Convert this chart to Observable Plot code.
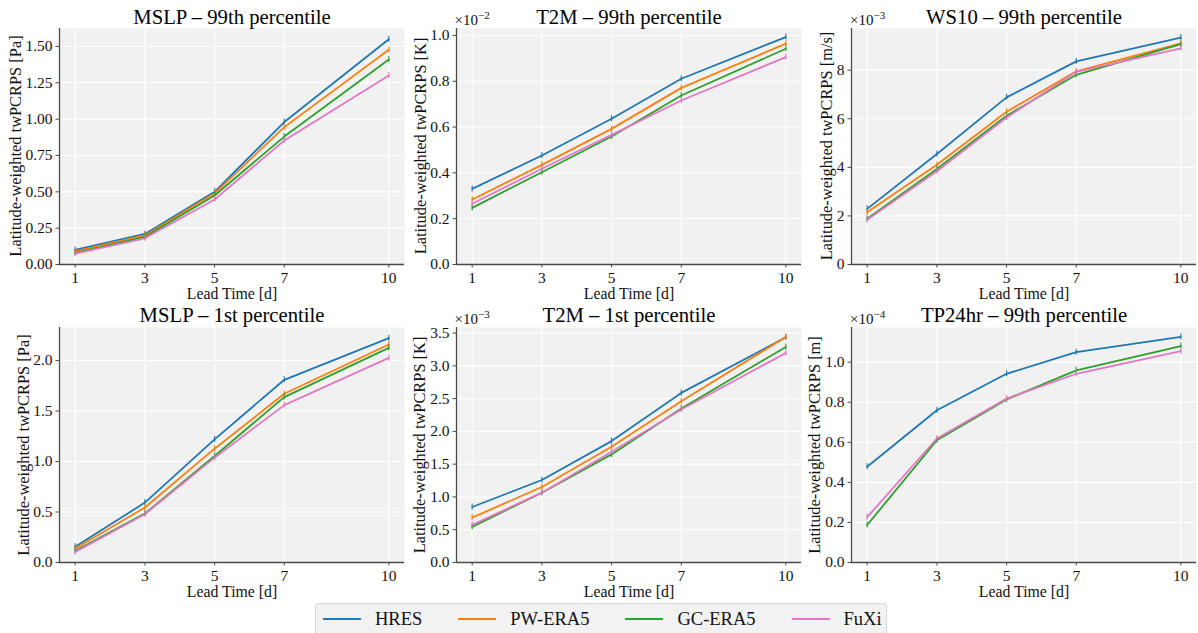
<!DOCTYPE html>
<html><head><meta charset="utf-8">
<script src="https://cdn.jsdelivr.net/npm/d3@7"></script>
<script src="https://cdn.jsdelivr.net/npm/@observablehq/plot@0.6"></script>
<style>
body{margin:0;background:#fff;font-family:"Liberation Serif","DejaVu Serif",serif;}
#root{position:relative;width:1198px;height:633px;overflow:hidden;background:#fff;}
.panel{position:absolute;}
.expo{position:absolute;font-size:15px;color:#111;white-space:nowrap;line-height:15px;}
.expo sup{font-size:11px;vertical-align:6px;line-height:0;}
.ylab{position:absolute;font-size:16.4px;color:#111;white-space:nowrap;line-height:17px;transform:translate(-50%,-50%) rotate(-90deg);}
#legend{position:absolute;left:315px;top:603px;width:572px;height:38px;border:1px solid #d6d6d6;border-radius:4px;background:#f2f2f2;box-sizing:border-box;display:flex;align-items:center;padding-left:7px;padding-bottom:6px;font-size:18.5px;color:#111;white-space:nowrap;}
#legend .item{display:flex;align-items:center;margin-right:36px;flex-shrink:0;}
#legend .sw{width:38px;height:0;border-top:2px solid;margin-right:14px;flex-shrink:0;}
</style></head><body><div id="root"></div>
<script>
// ---- data ----
const days = [1, 3, 5, 7, 10];
const models = ["HRES", "PW-ERA5", "GC-ERA5", "FuXi"];
const colors = ["#1f77b4", "#ff7f0e", "#2ca02c", "#e377c2"];
// rows: HRES, PW-ERA5, GC-ERA5, FuXi
const mslp99 = [[0.100, 0.210, 0.500, 0.980, 1.550], [0.090, 0.200, 0.490, 0.945, 1.477], [0.080, 0.190, 0.475, 0.880, 1.410], [0.075, 0.180, 0.447, 0.853, 1.300]];
const t2m99 = [[0.330, 0.476, 0.636, 0.811, 0.993], [0.284, 0.435, 0.592, 0.771, 0.964], [0.247, 0.403, 0.559, 0.738, 0.942], [0.265, 0.418, 0.566, 0.716, 0.905]];
const ws1099 = [[2.29, 4.55, 6.88, 8.36, 9.34], [2.15, 4.11, 6.29, 7.95, 9.10], [1.88, 3.93, 6.12, 7.81, 9.07], [1.84, 3.84, 6.05, 7.93, 8.90]];
const mslp1 = [[0.155, 0.593, 1.219, 1.809, 2.221], [0.138, 0.544, 1.127, 1.671, 2.158], [0.115, 0.484, 1.054, 1.638, 2.125], [0.105, 0.478, 1.038, 1.558, 2.026]];
const t2m1 = [[0.847, 1.258, 1.852, 2.587, 3.435], [0.685, 1.152, 1.766, 2.461, 3.440], [0.543, 1.065, 1.649, 2.349, 3.288], [0.573, 1.065, 1.690, 2.334, 3.196]];
const tp2499 = [[0.478, 0.760, 0.942, 1.050, 1.126], null, [0.187, 0.610, 0.814, 0.959, 1.080], [0.226, 0.619, 0.818, 0.942, 1.055]];
const titles = ["MSLP – 99th percentile", "T2M – 99th percentile", "WS10 – 99th percentile", "MSLP – 1st percentile", "T2M – 1st percentile", "TP24hr – 99th percentile"];
const units = ["Pa", "K", "m/s", "Pa", "K", "m"];
const exponents = [null, "−2", "−3", null, "−3", "−4"];
const yTicks = [[0, 0.25, 0.5, 0.75, 1, 1.25, 1.5], [0, 0.2, 0.4, 0.6, 0.8, 1.0], [0, 2, 4, 6, 8], [0, 0.5, 1, 1.5, 2], [0, 0.5, 1, 1.5, 2, 2.5, 3, 3.5], [0, 0.2, 0.4, 0.6, 0.8, 1.0]];
const yFormats = [".2f", ".1f", "d", ".1f", ".1f", ".1f"];
const xLabel = "Lead Time [d]";
const yLabelPrefix = "Latitude-weighted twPCRPS";

const panelsData = [mslp99, t2m99, ws1099, mslp1, t2m1, tp2499];

// ---- layout ----
const root = document.getElementById("root");
const spineX = [58.5, 455.5, 851];
const rowTop = [0, 300];
const mTop = [28, 27];
const mBottom = [36, 38];
const mLeft = 58, axW = 345, mRight = 6, svgH = 300;
const yLabelDx = [-44, -36, -25, -36, -37, -37];
const titleDy = [-11, -12];
const font = '"Liberation Serif", "DejaVu Serif", serif';
const spineColor = "#4a4a4a";

panelsData.forEach((vals, p) => {
  const col = p % 3, row = Math.floor(p / 3);
  const rows = [];
  models.forEach((m, i) => {
    if (!vals[i]) return;
    days.forEach((d, j) => rows.push({day: d, value: vals[i][j], model: m}));
  });
  const vmax = d3.max(rows, r => r.value), vmin = d3.min(rows, r => r.value);
  const ytop = vmax + 0.05 * (vmax - vmin);
  const xdom = [days[0] - 0.45, days[days.length - 1] + 0.45];
  const chart = Plot.plot({
    width: mLeft + axW + mRight,
    height: svgH,
    marginLeft: mLeft, marginRight: mRight,
    marginTop: mTop[row], marginBottom: mBottom[row],
    style: {background: "transparent", overflow: "visible", fontFamily: font, fontSize: "15px", color: "#111", maxWidth: "none"},
    x: {domain: xdom},
    y: {domain: [0, ytop]},
    color: {domain: models, range: colors},
    marks: [
      Plot.frame({fill: "#f1f1f1", stroke: null}),
      Plot.gridX(days, {stroke: "white", strokeOpacity: 1, strokeWidth: 1.1}),
      Plot.gridY(yTicks[p], {stroke: "white", strokeOpacity: 1, strokeWidth: 1.1}),
      Plot.ruleX([xdom[0]], {stroke: spineColor, strokeWidth: 1.3}),
      Plot.ruleY([0], {stroke: spineColor, strokeWidth: 1.3}),
      Plot.axisX(days, {tickSize: 3.5, tickPadding: 3.5, stroke: spineColor, label: null, fontSize: 15.5, fill: "#111"}),
      Plot.axisY(yTicks[p], {tickSize: 3.5, tickPadding: 3.5, stroke: spineColor, label: null, tickFormat: d3.format(yFormats[p]), fontSize: 15.5, fill: "#111"}),
      Plot.line(rows, {x: "day", y: "value", z: "model", stroke: "model", strokeWidth: 1.8}),
      Plot.ruleX(rows, {x: "day", y1: "value", y2: "value", stroke: "model", strokeWidth: 1.1, insetTop: -3, insetBottom: -3}),
      Plot.text([titles[p]], {frameAnchor: "top", dy: titleDy[row], lineAnchor: "middle", fontSize: 20.7, fill: "#000"}),
      Plot.text([xLabel], {frameAnchor: "bottom", dy: 29, lineAnchor: "middle", fontSize: 15.8, fill: "#111"})
    ]
  });
  chart.classList.add("panel");
  chart.style.left = (spineX[col] - mLeft) + "px";
  chart.style.top = rowTop[row] + "px";
  root.appendChild(chart);

  // rotated y-axis label
  const yl = document.createElement("div");
  yl.className = "ylab";
  yl.textContent = `${yLabelPrefix} [${units[p]}]`;
  yl.style.left = (spineX[col] + yLabelDx[p]) + "px";
  yl.style.top = (rowTop[row] + mTop[row] + (svgH - mTop[row] - mBottom[row]) / 2) + "px";
  root.appendChild(yl);

  if (exponents[p]) {
    const e = document.createElement("div");
    e.className = "expo";
    e.innerHTML = `×10<sup>${exponents[p]}</sup>`;
    e.style.left = (spineX[col] - 1) + "px";
    e.style.top = (rowTop[row] + mTop[row] - 15) + "px";
    root.appendChild(e);
  }
});

// legend
const lg = document.createElement("div");
lg.id = "legend";
models.forEach((m, i) => {
  const it = document.createElement("div");
  it.className = "item";
  const sw = document.createElement("span");
  sw.className = "sw";
  sw.style.borderTopColor = colors[i];
  const tx = document.createElement("span");
  tx.textContent = m;
  it.appendChild(sw); it.appendChild(tx);
  lg.appendChild(it);
});
root.appendChild(lg);
</script></body></html>
